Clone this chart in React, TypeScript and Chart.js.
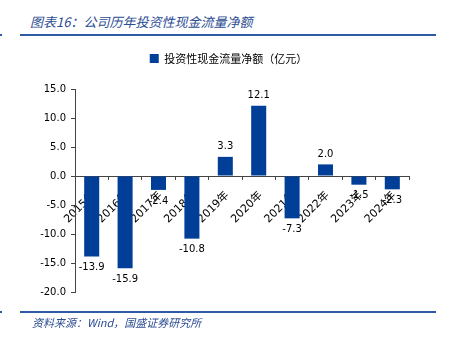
import React, { useEffect, useRef } from "react";
import { Chart, registerables } from "chart.js";

Chart.register(...registerables);

const categories = ["2015年", "2016年", "2017年", "2018年", "2019年", "2020年", "2021年", "2022年", "2023年", "2024年"];
const values = [-13.9, -15.9, -2.4, -10.8, 3.3, 12.1, -7.3, 2.0, -1.5, -2.3];
const seriesName = "投资性现金流量净额（亿元）";
const yTicks = [15, 10, 5, 0, -5, -10, -15, -20];
const titleText = "图表16：公司历年投资性现金流量净额";
const sourceText = "资料来源：Wind，国盛证券研究所";

const BAR_COLOR = "#003e97";
const LINE_COLOR = "#2f5ba6";
const TITLE_COLOR = "#2b4c94";
const AXIS_COLOR = "#444";

export default function App() {
  const ref = useRef<HTMLCanvasElement | null>(null);

  useEffect(() => {
    if (!ref.current) return;
    const valueLabels = {
      id: "valueLabels",
      afterDatasetsDraw(chart: any) {
        const ctx = chart.ctx;
        const meta = chart.getDatasetMeta(0);
        ctx.save();
        ctx.font = "10px 'DejaVu Sans'";
        ctx.fillStyle = "#000";
        ctx.textAlign = "center";
        meta.data.forEach((bar: any, i: number) => {
          const v = values[i];
          const { x, y } = bar.getProps(["x", "y"], true);
          if (v >= 0) {
            ctx.textBaseline = "bottom";
            ctx.fillText(v.toFixed(1), x, y - 5);
          } else {
            ctx.textBaseline = "top";
            ctx.fillText(v.toFixed(1), x, y + 6);
          }
        });
        ctx.restore();
      },
    };

    const legendGap = {
      id: "legendGap",
      beforeUpdate(chart: any) {
        const lg = chart.legend;
        if (lg && !lg.__patched) {
          const origFit = lg.fit;
          lg.fit = function () {
            origFit.call(this);
            this.height += 15;
          };
          lg.__patched = true;
        }
      },
    };

    const chart = new Chart(ref.current, {
      type: "bar",
      data: {
        labels: categories,
        datasets: [
          {
            label: seriesName,
            data: values,
            backgroundColor: BAR_COLOR,
            barPercentage: 0.9,
            categoryPercentage: 0.5,
          },
        ],
      },
      options: {
        responsive: false,
        animation: false,
        devicePixelRatio: 1,
        layout: { padding: { top: 43, right: 17, bottom: 53, left: 24 } },
        plugins: {
          legend: {
            position: "top",
            labels: {
              boxWidth: 9,
              boxHeight: 9,
              padding: 10,
              color: "#000",
              font: { size: 11, family: "'Noto Sans CJK SC'" },
            },
          },
          tooltip: { enabled: false },
        },
        scales: {
          x: {
            position: { y: 0 } as any,
            z: 1,
            grid: {
              display: true,
              drawOnChartArea: false,
              drawTicks: true,
              tickLength: 10,
              tickColor: "rgba(0,0,0,0)",
              color: "rgba(0,0,0,0)",
              offset: true,
            },
            border: { display: true, color: AXIS_COLOR, width: 1 },
            ticks: {
              maxRotation: 45,
              minRotation: 45,
              autoSkip: false,
              labelOffset: 2,
              color: "#000",
              font: { size: 11, family: "'DejaVu Sans', 'Noto Sans CJK SC'" },
            },
          },
          xMarks: {
            type: "category",
            axis: "x",
            position: { y: 0 } as any,
            grid: {
              display: true,
              drawOnChartArea: false,
              drawTicks: true,
              tickLength: 4,
              color: AXIS_COLOR,
              offset: true,
            },
            border: { display: false },
            ticks: { display: false },
          },
          y: {
            min: -20,
            max: 15,
            afterBuildTicks: (scale: any) => {
              scale.ticks = yTicks.map((v) => ({ value: v }));
            },
            afterFit: (scale: any) => {
              scale.width = 51;
            },
            grid: { drawOnChartArea: false, tickLength: 4, color: AXIS_COLOR },
            border: { display: true, color: AXIS_COLOR, width: 1 },
            ticks: {
              padding: 5,
              color: "#000",
              font: { size: 10, family: "'DejaVu Sans'" },
              callback: (v: any) => Number(v).toFixed(1),
            },
          },
          ySpacer: {
            type: "linear",
            axis: "y",
            position: "right",
            display: true,
            grid: { display: false, drawTicks: false },
            border: { display: false },
            ticks: { display: false },
            afterFit: (scale: any) => {
              scale.width = 24;
            },
          },
        },
      },
      plugins: [valueLabels, legendGap],
    } as any);

    return () => chart.destroy();
  }, []);

  return (
    <div style={{ position: "absolute", left: 0, top: 0, width: 450, height: 345, background: "#fff", overflow: "hidden" }}>
      <div
        style={{
          position: "absolute",
          left: 30,
          top: 13,
          fontFamily: "'Noto Sans CJK SC'",
          fontStyle: "italic",
          fontSize: 13,
          lineHeight: "18px",
          color: TITLE_COLOR,
          whiteSpace: "nowrap",
        }}
      >
        {titleText}
      </div>
      <div style={{ position: "absolute", left: 0, top: 34, width: 2, height: 2, background: LINE_COLOR }} />
      <div style={{ position: "absolute", left: 20, top: 34, width: 416, height: 2, background: LINE_COLOR }} />
      <canvas ref={ref} width={450} height={345} style={{ position: "absolute", left: 0, top: 0 }} />
      <div style={{ position: "absolute", left: 0, top: 311, width: 2, height: 2, background: LINE_COLOR }} />
      <div style={{ position: "absolute", left: 20, top: 311, width: 416, height: 2, background: LINE_COLOR }} />
      <div
        style={{
          position: "absolute",
          left: 32,
          top: 314,
          fontFamily: "'Noto Sans CJK SC'",
          fontStyle: "italic",
          fontSize: 11,
          lineHeight: "16px",
          color: TITLE_COLOR,
          whiteSpace: "nowrap",
        }}
      >
        {sourceText}
      </div>
    </div>
  );
}
